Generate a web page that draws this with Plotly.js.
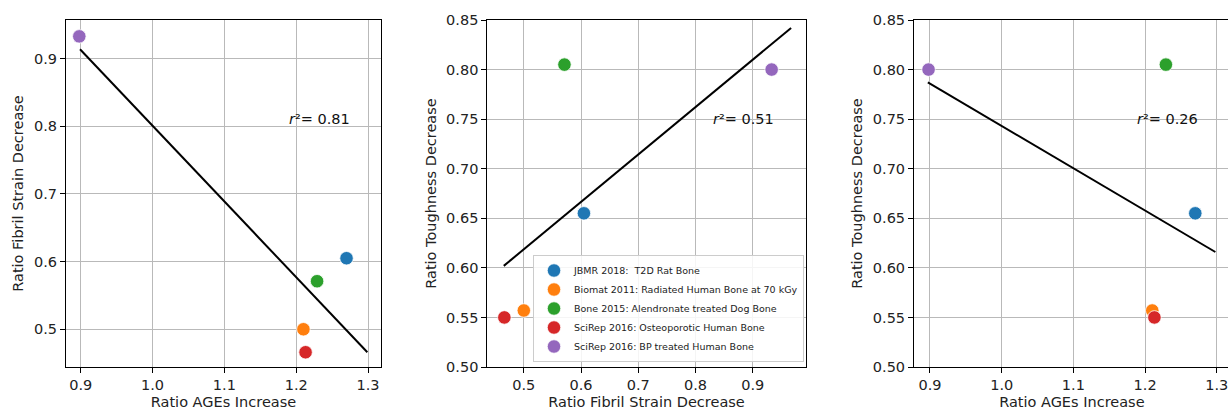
<!DOCTYPE html>
<html>
<head>
<meta charset="utf-8">
<script src="https://cdn.plot.ly/plotly-3.0.1.min.js"></script>
<style>
html, body { margin: 0; padding: 0; overflow: hidden; background: #fff; }
#chart { width: 1240px; height: 410px; }
</style>
</head>
<body>
<div id="chart"></div>
<script>
// ---- data ----
const studies = [
  "JBMR 2018:\u00a0 T2D Rat Bone",
  "Biomat 2011: Radiated Human Bone at 70 kGy",
  "Bone 2015: Alendronate treated Dog Bone",
  "SciRep 2016: Osteoporotic Human Bone",
  "SciRep 2016: BP treated Human Bone"
];
const colors = ["#1f77b4", "#ff7f0e", "#2ca02c", "#d62728", "#9467bd"];
const agesIncrease = [1.270, 1.210, 1.229, 1.213, 0.898];
const fibrilStrainDecrease = [0.605, 0.500, 0.571, 0.466, 0.933];
const toughnessDecrease = [0.655, 0.557, 0.805, 0.550, 0.800];

// fitted lines (endpoints)
const fit1X = [0.899, 1.299], fit1Y = [0.914, 0.466];
const fit2X = [0.465, 0.967], fit2Y = [0.602, 0.842];
const fit3X = [0.897, 1.298], fit3Y = [0.787, 0.616];

const r2Labels = ["0.81", "0.51", "0.26"];
const r2Pos = [[1.187, 0.811], [0.827, 0.750], [1.186, 0.750]];

// ---- build ----
const W = 1240, H = 410;
const FONT = "DejaVu Sans, sans-serif";
const FS = 14.5;
const traces = [];
const panels = [
  {xa: "x", ya: "y", xs: agesIncrease, ys: fibrilStrainDecrease, fx: fit1X, fy: fit1Y, legend: false},
  {xa: "x2", ya: "y2", xs: fibrilStrainDecrease, ys: toughnessDecrease, fx: fit2X, fy: fit2Y, legend: true},
  {xa: "x3", ya: "y3", xs: agesIncrease, ys: toughnessDecrease, fx: fit3X, fy: fit3Y, legend: false}
];
panels.forEach(p => {
  traces.push({x: p.fx, y: p.fy, xaxis: p.xa, yaxis: p.ya, mode: "lines",
    line: {color: "#000", width: 2}, showlegend: false, hoverinfo: "skip"});
  studies.forEach((s, i) => {
    traces.push({x: [p.xs[i]], y: [p.ys[i]], xaxis: p.xa, yaxis: p.ya, mode: "markers",
      name: s, showlegend: p.legend,
      marker: {color: colors[i], size: 13.5, line: {color: "#fff", width: 0.8}}});
  });
});

function px(a, b) { return [a / W, b / W]; }
const yDom = [1 - 367 / H, 1 - 20 / H];
function axis(dom, range, dtick, tick0, fmt, title, standoff, anchor) {
  return {
    domain: dom, range: range, dtick: dtick, tick0: tick0, tickformat: fmt,
    showgrid: true, gridcolor: "#b9b9b9", gridwidth: 1,
    showline: true, linecolor: "#000", linewidth: 1, mirror: true,
    ticks: "outside", ticklen: 5, tickwidth: 1, tickcolor: "#000",
    tickfont: {family: FONT, size: FS, color: "#222"},
    zeroline: false, automargin: false, anchor: anchor,
    title: {text: title, font: {family: FONT, size: FS, color: "#222"}, standoff: standoff}
  };
}

const layout = {
  width: W, height: H,
  margin: {l: 0, r: 0, t: 0, b: 0},
  paper_bgcolor: "#fff", plot_bgcolor: "#fff",
  font: {family: FONT, color: "#222"},
  showlegend: true,
  xaxis: axis(px(66, 381), [0.8795, 1.318], 0.1, 0.9, ".1f", "Ratio AGEs Increase", 4, "y"),
  yaxis: axis(yDom, [0.4442, 0.9572], 0.1, 0.5, ".1f", "Ratio Fibril Strain Decrease", 6, "x"),
  xaxis2: axis(px(487.3, 805.7), [0.4362, 0.9925], 0.1, 0.5, ".1f", "Ratio Fibril Strain Decrease", 4, "y2"),
  yaxis2: axis(yDom, [0.50, 0.85], 0.05, 0.5, ".2f", "Ratio Toughness Decrease", 6, "x2"),
  xaxis3: axis(px(914, 1229.7), [0.8777, 1.318], 0.1, 0.9, ".1f", "Ratio AGEs Increase", 4, "y3"),
  yaxis3: axis(yDom, [0.50, 0.85], 0.05, 0.5, ".2f", "Ratio Toughness Decrease", 6, "x3"),
  legend: {
    x: 533 / W, y: 1 - 362 / H, xanchor: "left", yanchor: "bottom",
    bgcolor: "rgba(255,255,255,0.85)", bordercolor: "#cccccc", borderwidth: 1,
    font: {family: FONT, size: 9.5, color: "#222"},
    tracegroupgap: 0, itemwidth: 30
  },
  annotations: r2Labels.map((v, i) => ({
    xref: ["x", "x2", "x3"][i], yref: ["y", "y2", "y3"][i],
    x: r2Pos[i][0], y: r2Pos[i][1], xanchor: "left", yanchor: "middle",
    text: "<i>r</i>\u00b2= " + v, showarrow: false,
    font: {family: FONT, size: FS, color: "#111"}
  }))
};

Plotly.newPlot("chart", traces, layout, {displayModeBar: false, staticPlot: true});
</script>
</body>
</html>
